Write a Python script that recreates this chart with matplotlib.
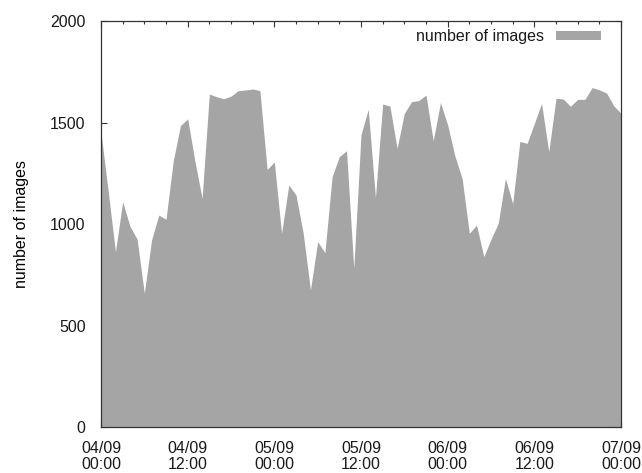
import datetime as dt
import matplotlib
matplotlib.use("Agg")
import matplotlib.pyplot as plt
import matplotlib.dates as mdates

# hourly counts, starting 04/09 00:00
start = dt.datetime(2011, 9, 4, 0, 0)
n_images = [1450, 1160, 864, 1110, 990, 925, 659, 921, 1044, 1023,
            1310, 1485, 1518, 1310, 1127, 1640, 1627, 1617, 1630, 1657,
            1660, 1665, 1657, 1269, 1305, 954, 1192, 1143, 954, 675,
            913, 859, 1233, 1332, 1361, 782, 1440, 1565, 1131, 1591,
            1581, 1373, 1545, 1603, 1608, 1635, 1410, 1598, 1488, 1335,
            1225, 954, 995, 839, 925, 1003, 1225, 1100, 1407, 1397,
            1495, 1594, 1356, 1619, 1616, 1580, 1614, 1614, 1672, 1661,
            1645, 1582, 1545]
times = [start + dt.timedelta(hours=h) for h in range(len(n_images))]

plt.rcParams['font.family'] = ['Liberation Sans', 'DejaVu Sans']
plt.rcParams['text.color'] = '#1a1a1a'
plt.rcParams['xtick.labelcolor'] = '#1a1a1a'
plt.rcParams['ytick.labelcolor'] = '#1a1a1a'

fig = plt.figure(figsize=(6.42, 4.73), dpi=100)
ax = fig.add_axes([101/642, 1 - 427/473, 520/642, 406/473])

ax.fill_between(times, n_images, 0, color='#a5a5a5', lw=0, label='number of images')

ax.set_xlim(times[0], times[-1])
ax.set_ylim(0, 2000)
ax.set_yticks([0, 500, 1000, 1500, 2000])

ax.xaxis.set_major_locator(mdates.HourLocator(byhour=[0, 12]))
ax.xaxis.set_minor_locator(mdates.HourLocator(byhour=range(0, 24, 3)))
ax.xaxis.set_major_formatter(mdates.DateFormatter('%d/%m\n%H:%M'))

ax.set_axisbelow(True)
ax.tick_params(which='both', direction='in', top=True, right=True,
               color='#333333', width=0.8)
ax.tick_params(which='major', length=4, labelsize=11.5, pad=10)
ax.tick_params(which='minor', length=2.5)
ax.tick_params(axis='y', pad=11)
for lbl in ax.get_xticklabels():
    lbl.set_linespacing(1.1)
for s in ax.spines.values():
    s.set_color('#333333')
    s.set_linewidth(0.9)

ax.set_ylabel('number of images', fontsize=11.5, labelpad=15)

ax.legend(loc='upper right', bbox_to_anchor=(1.0, 1.03), frameon=False,
          fontsize=11.5, markerfirst=False, handlelength=2.8, handleheight=0.5,
          handletextpad=0.8, borderpad=0.25, borderaxespad=1.0)

fig.savefig('out.png', dpi=100)
